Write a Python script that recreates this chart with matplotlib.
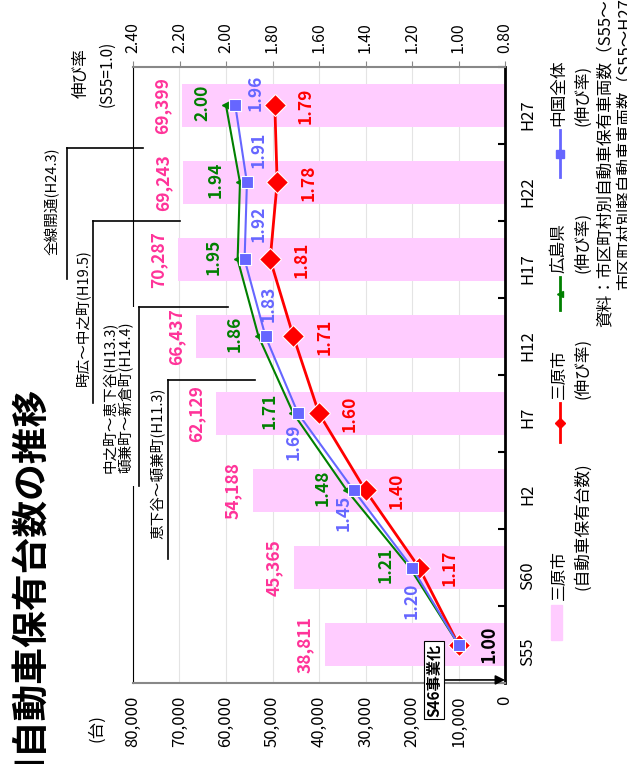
import numpy as np
import matplotlib.pyplot as plt
from matplotlib.lines import Line2D
from matplotlib.patches import Rectangle
from matplotlib.transforms import blended_transform_factory

plt.rcParams['font.family'] = ['Noto Sans CJK JP', 'DejaVu Sans']

# Survey years and values
YEARS = ['S55', 'S60', 'H2', 'H7', 'H12', 'H17', 'H22', 'H27']
MIHARA_CARS = [38811, 45365, 54188, 62129, 66437, 70287, 69243, 69399]
MIHARA_RATE = [1.00, 1.17, 1.40, 1.60, 1.71, 1.81, 1.78, 1.79]
HIROSHIMA_RATE = [1.00, 1.21, 1.48, 1.71, 1.86, 1.95, 1.94, 2.00]
CHUGOKU_RATE = [1.00, 1.20, 1.45, 1.69, 1.83, 1.92, 1.91, 1.96]

CAR_TICKS = np.arange(0, 80001, 10000)
RATE_TICKS = np.arange(0.8, 2.401, 0.2)

# Road openings: label lines, position on the year axis
ROADS = [
    (['全線開通(H24.3)'], 6.45),
    (['時広～中之町(H19.5)'], 5.5),
    (['中之町～恵下谷(H13.3)', '頓兼町～新倉町(H14.4)'], 4.38),
    (['恵下谷～頓兼町(H11.3)'], 3.43),
]

PINK = '#FFCCFF'
PINK_TEXT = '#FF3399'
RED = '#FF0000'
GREEN = '#008000'
BLUE = '#6666FF'

W, H = 627, 764


def fx(px):
    return px / W


def fy(py):
    return 1 - py / H


def pt(px):
    return px * 0.72


fig = plt.figure(figsize=(W / 100, H / 100), dpi=100)
ax = fig.add_axes([fx(133), fy(683), fx(505) - fx(133), fy(67) - fy(683)])
pos = np.arange(len(YEARS))

# bars: car count (left scale runs right-to-left)
ax.barh(pos, MIHARA_CARS, height=0.56, color=PINK, zorder=1)
ax.set_xlim(80000, 0)
ax.set_ylim(-0.5, 7.5)
ax.set_xticks(CAR_TICKS)
ax.set_xticklabels([f'{v:,}' for v in CAR_TICKS])
ax.grid(axis='x', color='#E4E4E4', lw=0.8)
ax.set_axisbelow(True)
ax.tick_params(axis='x', labelrotation=90, length=0, pad=9, labelsize=12)

ax.yaxis.tick_right()
ax.set_yticks(pos)
ax.set_yticklabels(YEARS)
ax.set_yticks(np.arange(-0.5, 8, 1), minor=True)
ax.tick_params(axis='y', which='major', labelrotation=90, length=0, pad=10, labelsize=12)
ax.tick_params(axis='y', which='minor', direction='in', length=5, width=1.5,
               right=True, left=False)

ax.spines['right'].set_linewidth(2)
ax.spines['right'].set_color('black')
ax.spines['bottom'].set_color('#888888')
ax.spines['bottom'].set_linewidth(1.5)
ax.spines['top'].set_visible(False)
ax.spines['left'].set_linewidth(0.8)

for i, v in enumerate(MIHARA_CARS):
    ax.annotate(f'{v:,}', (v, i), xytext=(pt(-20), 0), textcoords='offset points',
                rotation=90, ha='center', va='center', color=PINK_TEXT,
                fontsize=12.5, fontweight='bold')

# growth rates on the second scale
ax2 = ax.twiny()
ax2.set_xlim(2.4, 0.8)
ax2.set_xticks(RATE_TICKS)
ax2.set_xticklabels([f'{v:.2f}' for v in RATE_TICKS])
ax2.tick_params(axis='x', labelrotation=90, length=4, color='#888888', pad=6,
                labelsize=11.5)
for s in ['left', 'right', 'bottom']:
    ax2.spines[s].set_visible(False)
ax2.spines['top'].set_color('#888888')
ax2.spines['top'].set_linewidth(1.5)

ax2.plot(MIHARA_RATE, pos, color=RED, lw=2, marker='D', ms=11, mec='white',
         mew=0.8, zorder=2)
ax2.plot(HIROSHIMA_RATE, pos, color=GREEN, lw=1.5, marker='<', ms=6, zorder=3)
ax2.plot(CHUGOKU_RATE, pos, color=BLUE, lw=1.5, marker='s', ms=8, mec='white',
         mew=0.8, zorder=4)

for i, v in enumerate(MIHARA_RATE):
    ax2.annotate(f'{v:.2f}', (v, i), xytext=(pt(31), 0), textcoords='offset points',
                 rotation=90, ha='center', va='center',
                 color='black' if i == 0 else RED,
                 fontsize=13 if i == 0 else 12.5, fontweight='bold', zorder=5)

for i, v in enumerate(HIROSHIMA_RATE):
    if i == 0:
        continue
    ax2.annotate(f'{v:.2f}', (v, i), xytext=(pt(-24), pt(3)), textcoords='offset points',
                 rotation=90, ha='center', va='center', color=GREEN,
                 fontsize=12.5, fontweight='bold', zorder=5)

blue_off = {1: (0, 33), 2: (-10, 22), 3: (-4, 28), 4: (3, -33),
            5: (14, -36), 6: (12, -33), 7: (20, -13)}
for i, v in enumerate(CHUGOKU_RATE):
    if i == 0:
        continue
    dx, dy = blue_off[i]
    ax2.annotate(f'{v:.2f}', (v, i), xytext=(pt(dx), pt(-dy)), textcoords='offset points',
                 rotation=90, ha='center', va='center', color=BLUE,
                 fontsize=12.5, fontweight='bold', zorder=5)

# S46 arrow
ax.annotate('S46事業化', xy=(1.0, 0.005), xycoords='axes fraction',
            xytext=(fx(434), fy(680)), textcoords='figure fraction',
            rotation=90, ha='center', va='center', fontsize=11, fontweight='bold',
            bbox=dict(boxstyle='square,pad=0.15', fc='white', ec='black', lw=0.8),
            arrowprops=dict(arrowstyle='-|>', color='black', lw=1.2,
                            mutation_scale=14, shrinkA=0, shrinkB=0),
            zorder=6)

# road opening leaders
trans = blended_transform_factory(ax.transAxes, ax.transData)


def axfrac(px):
    return (px - 133) / (505 - 133)


leader_cfg = [
    # text x centres, underline x, leader end x, underline length px, text gap px
    ([52], 67, 143, 130, 0),
    ([83], 93, 180, 181, 28),
    ([110, 125], 139, 228, 177, 14),
    ([158], 168, 255, 177, 7),
]
for (lines, idx), (txs, ux, ex, ulen, gap) in zip(ROADS, leader_cfg):
    ax.plot([axfrac(ux), axfrac(ex)], [idx, idx], transform=trans, clip_on=False,
            color='black', lw=1.2, zorder=6)
    ax.plot([axfrac(ux)] * 2, [idx, idx - ulen / 76.4], transform=trans,
            clip_on=False, color='black', lw=1.2, zorder=6)
    if len(lines) > 1:
        # text box background hides the plot border behind the two-line label
        ax.add_patch(Rectangle((axfrac(98), idx - ulen / 76.4), axfrac(137) - axfrac(98),
                               ulen / 76.4, transform=trans, clip_on=False,
                               fc='white', ec='none', zorder=3))
    for s, tx in zip(lines, txs):
        ax.text(axfrac(tx), idx - gap / 76.4, s, transform=trans, rotation=90,
                ha='center', va='top', fontsize=10.5, zorder=4)

# titles and axis captions
fig.text(fx(30), fy(790), '■自動車保有台数の推移', rotation=90, ha='center',
         va='bottom', fontsize=26.5, fontweight='bold')
fig.text(fx(97), fy(742), '(台)', rotation=90, ha='center', va='bottom', fontsize=12)
fig.text(fx(81), fy(98), '伸び率', rotation=90, ha='center', va='bottom', fontsize=12)
fig.text(fx(107), fy(107), '(S55=1.0)', rotation=90, ha='center', va='bottom',
         fontsize=11)

# legend
fig.add_artist(Rectangle((fx(551), fy(640)), 11 / W, 35 / H, color=PINK))
fig.text(fx(559), fy(600), '三原市', rotation=90, ha='center', va='bottom', fontsize=12)
fig.text(fx(583), fy(590), '(自動車保有台数)', rotation=90, ha='center', va='bottom',
         fontsize=12)
legend_lines = [
    (RED, 'D', 5, 403, 442, '三原市'),
    (GREEN, '<', 5, 277, 310, '広島県'),
    (BLUE, 's', 6, 130, 177, '中国全体'),
]
for color, mk, ms, y0, y1, name in legend_lines:
    fig.add_artist(Line2D([fx(560)] * 2, [fy(y0), fy(y1)], color=color, lw=2))
    fig.add_artist(Line2D([fx(560)], [fy((y0 + y1) / 2)], color=color, marker=mk,
                          ms=ms, lw=0))
    fig.text(fx(559), fy(y0 - 4), name, rotation=90, ha='center', va='bottom',
             fontsize=12)
    fig.text(fx(583), fy(y0 - 4), '(伸び率)', rotation=90, ha='center', va='bottom',
             fontsize=12)

fig.text(fx(605), fy(327), '資料：市区町村別自動車保有車両数（S55〜H27）', rotation=90,
         ha='center', va='bottom', fontsize=12)
fig.text(fx(625), fy(290), '市区町村別軽自動車車両数（S55〜H27）', rotation=90,
         ha='center', va='bottom', fontsize=12)

fig.savefig('out.png', dpi=100)
